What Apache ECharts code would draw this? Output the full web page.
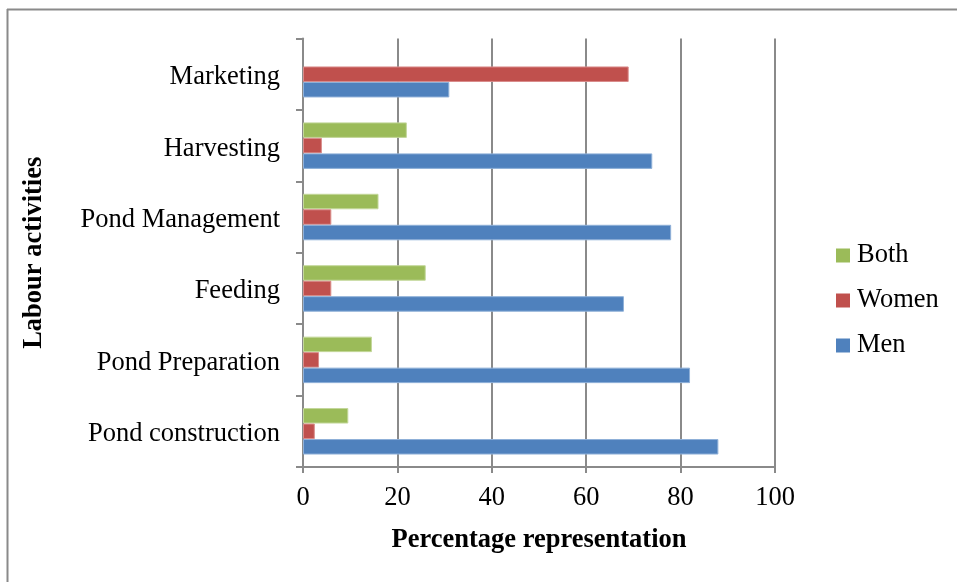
<!DOCTYPE html>
<html>
<head>
<meta charset="utf-8">
<script src="https://cdn.jsdelivr.net/npm/echarts@6/dist/echarts.min.js"></script>
<style>
html,body{margin:0;padding:0;background:#fff;}
#c{width:957px;height:582px;}
</style>
</head>
<body>
<div id="c"></div>
<script>
const categories = ['Pond construction','Pond Preparation','Feeding','Pond Management','Harvesting','Marketing'];
const menValues = [88, 82, 68, 78, 74, 31];
const womenValues = [2.5, 3.4, 6, 6, 4, 69];
const bothValues = [9.6, 14.6, 26, 16, 22, null];
const xTicks = [0, 20, 40, 60, 80, 100];

const font = 'Liberation Serif';
const fs = 26.5;
const chart = echarts.init(document.getElementById('c'));
chart.setOption({
  animation: false,
  backgroundColor: '#fff',
  textStyle: { fontFamily: font },
  graphic: [
    { type: 'line', shape: { x1: 7, y1: 9.5, x2: 957, y2: 9.5 }, style: { stroke: '#8a8a8a', lineWidth: 2 } },
    { type: 'line', shape: { x1: 7.5, y1: 9, x2: 7.5, y2: 582 }, style: { stroke: '#8a8a8a', lineWidth: 2 } }
  ],
  legend: {
    data: ['Both', 'Women', 'Men'],
    orient: 'vertical',
    left: 836,
    top: 242,
    padding: 0,
    itemWidth: 14,
    itemHeight: 14,
    itemGap: 18,
    icon: 'rect',
    itemStyle: { borderWidth: 0 },
    textStyle: { fontFamily: font, fontSize: fs, color: '#000', padding: [0, 0, 0, 2] }
  },
  grid: { left: 303, right: 182, top: 38.5, bottom: 115, containLabel: false },
  xAxis: {
    type: 'value',
    min: xTicks[0],
    max: xTicks[xTicks.length - 1],
    interval: 20,
    name: 'Percentage representation',
    nameLocation: 'middle',
    nameGap: 60,
    nameTextStyle: { fontFamily: font, fontSize: fs, fontWeight: 'bold', color: '#000' },
    axisLine: { show: true, lineStyle: { color: '#8a8a8a', width: 2 } },
    axisTick: { show: true, length: 6, lineStyle: { color: '#8a8a8a', width: 2 } },
    axisLabel: { fontFamily: font, fontSize: fs, color: '#000', margin: 18 },
    splitLine: { show: true, lineStyle: { color: '#8a8a8a', width: 2 } }
  },
  yAxis: {
    type: 'category',
    data: categories,
    name: 'Labour activities',
    nameLocation: 'middle',
    nameGap: 255,
    nameRotate: 90,
    nameTextStyle: { fontFamily: font, fontSize: fs, fontWeight: 'bold', color: '#000' },
    axisLine: { show: true, lineStyle: { color: '#8a8a8a', width: 2 } },
    axisTick: { show: true, length: 7, lineStyle: { color: '#8a8a8a', width: 2 } },
    axisLabel: {
      fontFamily: font, fontSize: fs, color: '#000', margin: 23,
      formatter: '{a|{value}}',
      rich: { a: { fontFamily: font, fontSize: fs, color: '#000', padding: [6, 0, 0, 0] } }
    },
    splitLine: { show: false }
  },
  series: [
    { name: 'Both', type: 'bar', data: bothValues, barWidth: 15.5, barGap: '0%',
      itemStyle: { color: '#9BBB59', borderColor: '#c3d79a', borderWidth: 1 } },
    { name: 'Women', type: 'bar', data: womenValues, barWidth: 15.5, barGap: '0%',
      itemStyle: { color: '#C0504D', borderColor: '#d98c8a', borderWidth: 1 } },
    { name: 'Men', type: 'bar', data: menValues, barWidth: 15.5, barGap: '0%',
      itemStyle: { color: '#4F81BD', borderColor: '#8fb0d8', borderWidth: 1 } }
  ]
});
</script>
</body>
</html>
